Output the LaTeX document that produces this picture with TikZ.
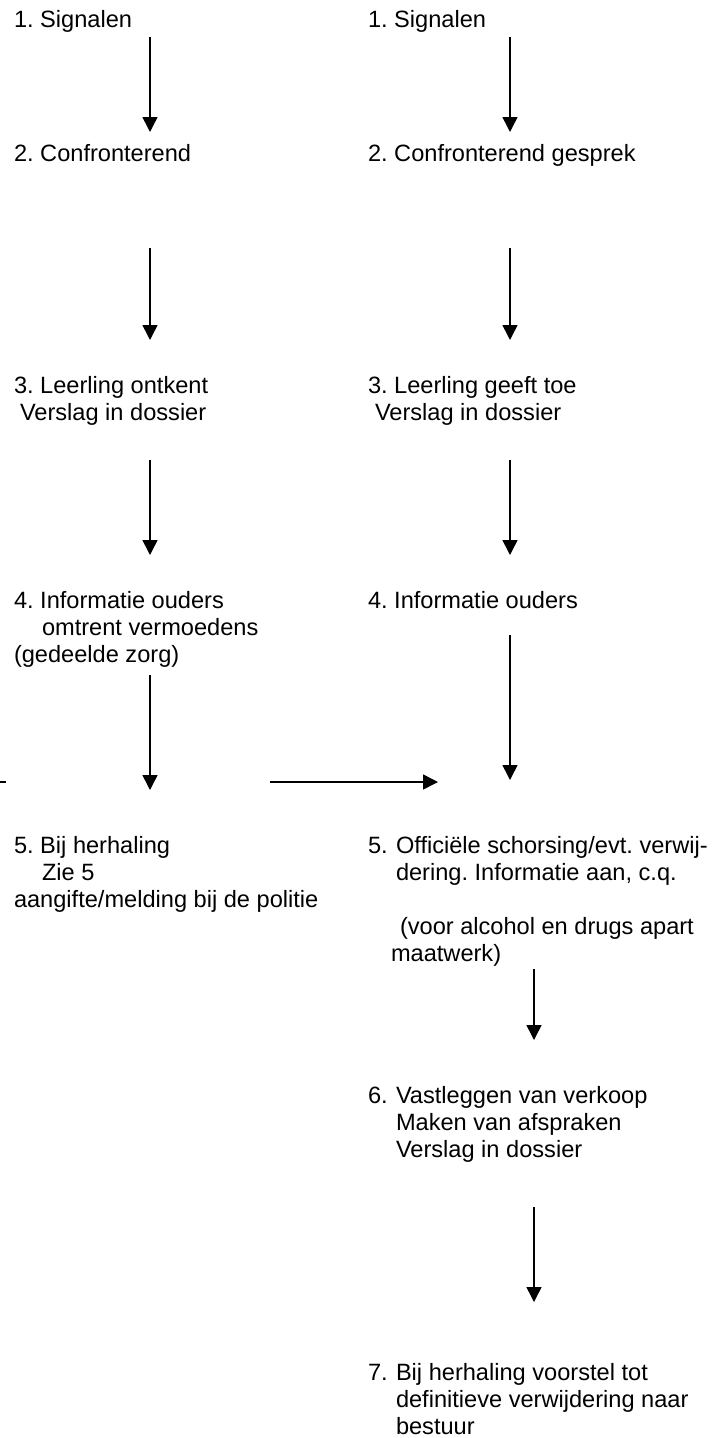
\documentclass[tikz,border=0pt]{standalone}
\usepackage{fontspec}
\setmainfont{Liberation Sans}
\usetikzlibrary{arrows.meta}
\tikzset{
  txt/.style={anchor=base west, inner sep=0pt, outer sep=0pt, font=\fontsize{23.6}{27.2}\selectfont\frenchspacing},
  arr/.style={line width=1.5pt, -{Triangle[width=15pt,length=15pt]}},
  plain/.style={line width=1.5pt}
}
\begin{document}
\begin{tikzpicture}[x=1pt,y=-1pt]
\useasboundingbox (0,0) rectangle (722,1438);
% left column
\node[txt] (l1) at (14,27) {1. Signalen};
\node[txt] (l2) at (14,161) {2. Confronterend};
\node[txt] (l3a) at (14,393) {3. Leerling ontkent};
\node[txt] (l3b) at (20,420) {Verslag in dossier};
\node[txt] (l4a) at (14,608) {4. Informatie ouders};
\node[txt] (l4b) at (42,635) {omtrent vermoedens};
\node[txt] (l4c) at (14,662) {(gedeelde zorg)};
\node[txt] (l5a) at (14,853) {5. Bij herhaling};
\node[txt] (l5b) at (42,880) {Zie 5};
\node[txt] (l5c) at (14,907) {aangifte/melding bij de politie};
% right column
\node[txt] (r1) at (368,27) {1. Signalen};
\node[txt] (r2) at (368,161) {2. Confronterend gesprek};
\node[txt] (r3a) at (368,393) {3. Leerling geeft toe};
\node[txt] (r3b) at (375,420) {Verslag in dossier};
\node[txt] (r4) at (368,608) {4. Informatie ouders};
\node[txt] (r5a) at (368,853) {5.};
\node[txt] (r5b) at (396,853) {Officiële schorsing/evt. verwij-};
\node[txt] (r5c) at (396,880) {dering. Informatie aan, c.q.};
\node[txt] (r5d) at (400,934) {(voor alcohol en drugs apart};
\node[txt] (r5e) at (391,961) {maatwerk)};
\node[txt] (r6a) at (368,1103) {6.};
\node[txt] (r6b) at (396,1103) {Vastleggen van verkoop};
\node[txt] (r6c) at (396,1130) {Maken van afspraken};
\node[txt] (r6d) at (396,1157) {Verslag in dossier};
\node[txt] (r7a) at (368,1380) {7.};
\node[txt] (r7b) at (396,1380) {Bij herhaling voorstel tot};
\node[txt] (r7c) at (396,1407) {definitieve verwijdering naar};
\node[txt] (r7d) at (396,1434) {bestuur};
% arrow end points
\coordinate (la1) at (150,37);  \coordinate (lb1) at (150,132);
\coordinate (la2) at (150,248); \coordinate (lb2) at (150,340);
\coordinate (la3) at (150,460); \coordinate (lb3) at (150,555);
\coordinate (la4) at (150,675); \coordinate (lb4) at (150,790);
\coordinate (ra1) at (510,37);  \coordinate (rb1) at (510,132);
\coordinate (ra2) at (510,248); \coordinate (rb2) at (510,340);
\coordinate (ra3) at (510,460); \coordinate (rb3) at (510,555);
\coordinate (ra4) at (510,635); \coordinate (rb4) at (510,780);
\coordinate (ra5) at (534,969); \coordinate (rb5) at (534,1040);
\coordinate (ra6) at (534,1207); \coordinate (rb6) at (534,1302);
\coordinate (ha) at (270,782); \coordinate (hb) at (438,782);
\coordinate (da) at (0,782); \coordinate (db) at (6,782);
\draw[arr] (la1) -- (lb1);
\draw[arr] (la2) -- (lb2);
\draw[arr] (la3) -- (lb3);
\draw[arr] (la4) -- (lb4);
\draw[arr] (ra1) -- (rb1);
\draw[arr] (ra2) -- (rb2);
\draw[arr] (ra3) -- (rb3);
\draw[arr] (ra4) -- (rb4);
\draw[arr] (ra5) -- (rb5);
\draw[arr] (ra6) -- (rb6);
\draw[arr] (ha) -- (hb);
\draw[plain] (da) -- (db);
\end{tikzpicture}
\end{document}
